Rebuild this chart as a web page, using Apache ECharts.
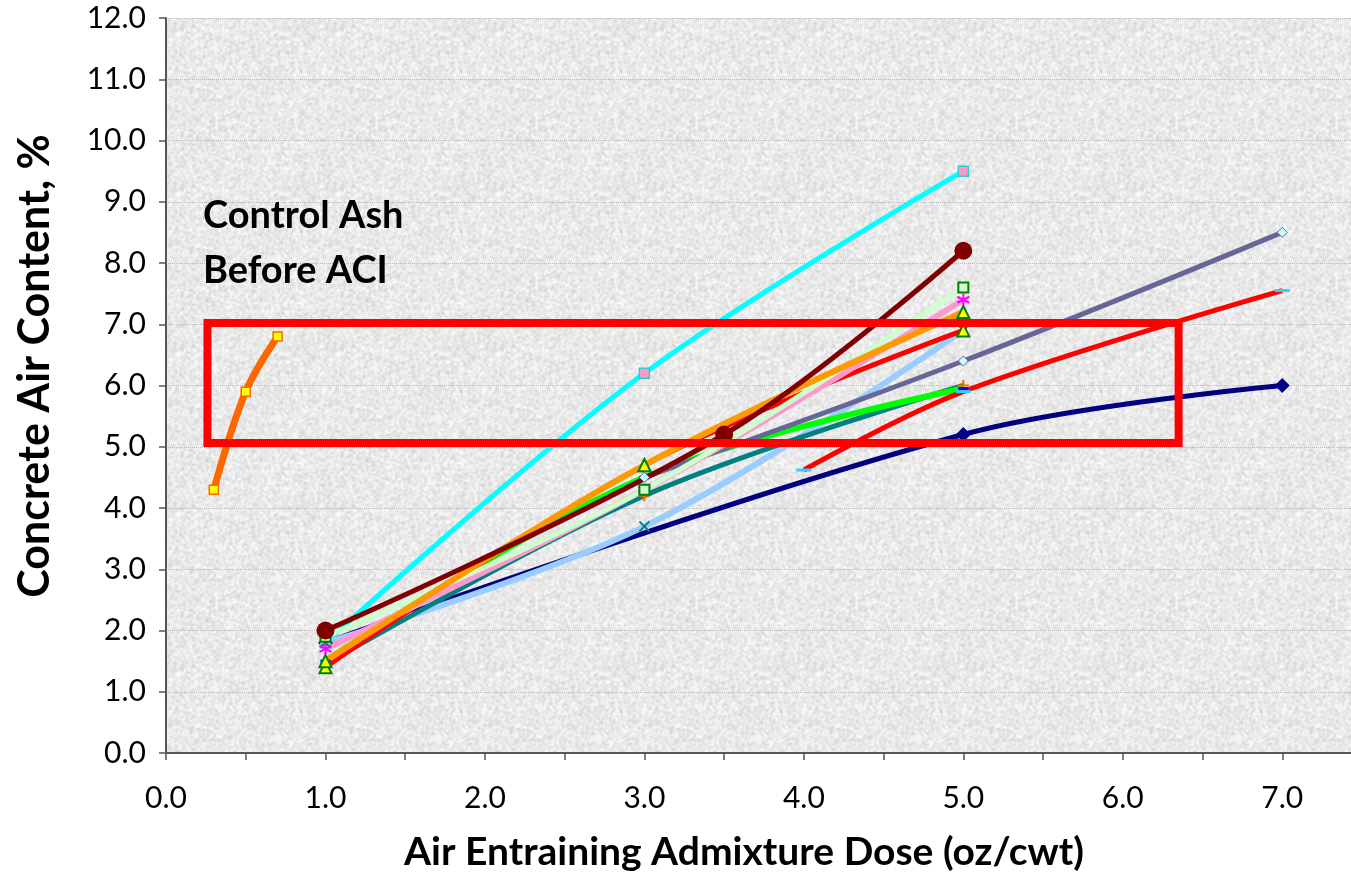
<!DOCTYPE html>
<html>
<head>
<meta charset="utf-8">
<script src="https://cdn.jsdelivr.net/npm/echarts@6/dist/echarts.min.js"></script>
<style>
  html, body { margin: 0; padding: 0; background: #fff; }
  #chart { width: 1351px; height: 872px; }
</style>
</head>
<body>
<div id="chart"></div>
<script>
// dose (oz/cwt) vs air content (%)
const controlAsh = [[0.3, 4.3], [0.5, 5.9], [0.7, 6.8]]
const navyRun = [[1.0, 1.8], [5.0, 5.2], [7.0, 6.0]]
const cyanRun = [[1.0, 1.8], [3.0, 6.2], [5.0, 9.5]]
const maroonRun = [[1.0, 2.0], [3.5, 5.2], [5.0, 8.2]]
const paleGreenRun = [[1.0, 1.9], [3.0, 4.3], [5.0, 7.6]]
const pinkRun = [[1.0, 1.7], [3.0, 4.3], [5.0, 7.4]]
const orangeRun = [[1.0, 1.5], [3.0, 4.7], [5.0, 7.2]]
const redRunA = [[1.0, 1.4], [3.0, 4.7], [5.0, 6.9]]
const greenRun = [[1.0, 1.5], [3.0, 4.5], [5.0, 5.95]]
const tealRun = [[1.0, 1.45], [3.0, 4.2], [5.0, 6.0]]
const lightBlueRun = [[1.0, 1.8], [3.0, 3.7], [5.0, 6.9]]
const slateRun = [[3.0, 4.5], [5.0, 6.4], [7.0, 8.5]]
const redRunB = [[4.0, 4.62], [5.0, 5.9], [7.0, 7.55]]

// target band drawn on the chart
const boxX = [0.26, 6.35]
const boxY = [5.06, 7.02]

const xTicks = { min: 0, max: 7.5, step: 0.5 }
const yTicks = { min: 0, max: 12, step: 1 }

const FONT = 'Lato, "Open Sans", sans-serif'
const asterisk = 'path://M5,0L5,10M0.7,2.5L9.3,7.5M0.7,7.5L9.3,2.5'
const cross = 'path://M0,0L10,10M0,10L10,0'
const plus = 'path://M5,0L5,10M0,5L10,5'

// granite-ish plot background, deterministic hash noise
function granite() {
  const size = 160
  const c = document.createElement('canvas')
  c.width = size; c.height = size
  const ctx = c.getContext('2d')
  const img = ctx.createImageData(size, size)
  const hash = (x, y) => {
    let h = (x * 374761393 + y * 668265263) | 0
    h = (h ^ (h >>> 13)) * 1274126177 | 0
    return ((h ^ (h >>> 16)) >>> 0) / 4294967295
  }
  for (let y = 0; y < size; y++) {
    for (let x = 0; x < size; x++) {
      let s = 0
      for (let dy = -1; dy <= 1; dy++) {
        for (let dx = -1; dx <= 1; dx++) {
          s += hash((x + dx + size) % size, (y + dy + size) % size)
        }
      }
      const g = Math.min(250, Math.round(233 + 75 * (s / 9 - 0.5)))
      const i = (y * size + x) * 4
      img.data[i] = g; img.data[i + 1] = g; img.data[i + 2] = g; img.data[i + 3] = 255
    }
  }
  ctx.putImageData(img, 0, 0)
  return c
}

function line(data, color, width, symbol, size, itemStyle) {
  return {
    type: 'line',
    data: data,
    smooth: 0.35,
    symbol: symbol,
    symbolSize: size,
    showSymbol: true,
    lineStyle: { color: color, width: width },
    itemStyle: itemStyle,
    emphasis: { disabled: true },
    animation: false
  }
}

const boxData = [
  [boxX[0], boxY[0]], [boxX[1], boxY[0]], [boxX[1], boxY[1]],
  [boxX[0], boxY[1]], [boxX[0], boxY[0]]
]

const chart = echarts.init(document.getElementById('chart'))
chart.setOption({
  backgroundColor: '#ffffff',
  animation: false,
  grid: {
    left: 166, top: 18, width: 1196, height: 735,
    outerBoundsMode: 'none',
    show: true, backgroundColor: { image: granite(), repeat: 'repeat' }, borderWidth: 0
  },
  xAxis: {
    type: 'value',
    min: xTicks.min, max: xTicks.max, interval: xTicks.step,
    axisLine: { lineStyle: { color: '#555', width: 2 } },
    axisTick: { show: true, length: 7, lineStyle: { color: '#555', width: 1.5 } },
    splitLine: { show: false },
    axisLabel: {
      color: '#000', fontFamily: FONT, fontSize: 30, margin: 30,
      formatter: v => (Math.abs(v - Math.round(v)) < 1e-6 && v <= 7) ? v.toFixed(1) : ''
    }
  },
  yAxis: {
    type: 'value',
    min: yTicks.min, max: yTicks.max, interval: yTicks.step,
    axisLine: { show: true, lineStyle: { color: '#555', width: 2 } },
    axisTick: { show: true, length: 7, lineStyle: { color: '#555', width: 1.5 } },
    splitLine: { show: true, lineStyle: { color: '#b8b8b8', width: 1, type: 'dotted' } },
    axisLabel: {
      color: '#000', fontFamily: FONT, fontSize: 30, margin: 20,
      formatter: v => v.toFixed(1)
    }
  },
  graphic: [
    {
      type: 'text', x: 744, y: 852,
      style: {
        text: 'Air Entraining Admixture Dose (oz/cwt)',
        font: 'bold 39px ' + FONT, fill: '#000',
        textAlign: 'center', textVerticalAlign: 'middle'
      }
    },
    {
      type: 'text', x: 35, y: 366, rotation: Math.PI / 2,
      style: {
        text: 'Concrete Air Content, %',
        font: 'bold 43px ' + FONT, fill: '#000',
        textAlign: 'center', textVerticalAlign: 'middle'
      }
    },
    {
      type: 'text', x: 203, y: 188, z: 10,
      style: {
        text: 'Control Ash\nBefore ACI',
        font: 'bold 38px ' + FONT, fill: '#000', lineHeight: 55
      }
    }
  ],
  series: [
    line(navyRun, '#000080', 5, 'diamond', 15, { color: '#000080' }),
    line(cyanRun, '#00FFFF', 5, 'rect', 10, { color: '#FF99CC', borderColor: '#33CCCC', borderWidth: 1.5 }),
    line(lightBlueRun, '#99CCFF', 6, cross, 10, { color: 'rgba(0,0,0,0)', borderColor: '#008080', borderWidth: 2 }),
    line(tealRun, '#008080', 5, plus, 11, { color: 'rgba(0,0,0,0)', borderColor: '#FF6600', borderWidth: 2 }),
    line(greenRun, '#00FF00', 6, 'rect', [10, 3], { color: '#0000FF' }),
    line(redRunA, '#FF0000', 5, 'triangle', 12, { color: '#FFFF00', borderColor: '#008000', borderWidth: 2 }),
    line(slateRun, '#666699', 5, 'diamond', 10, { color: '#CCFFFF', borderColor: '#666699', borderWidth: 1 }),
    line(redRunB, '#FF0000', 5, 'rect', [15, 3], { color: '#33CCFF' }),
    line(pinkRun, '#FF99CC', 6, asterisk, 12, { color: 'rgba(0,0,0,0)', borderColor: '#FF00FF', borderWidth: 2 }),
    line(paleGreenRun, '#CCFFCC', 5, 'rect', 10, { color: '#CCFFCC', borderColor: '#008000', borderWidth: 2 }),
    line(orangeRun, '#FF9900', 6, 'triangle', 12, { color: '#FFFF00', borderColor: '#008000', borderWidth: 2 }),
    line(maroonRun, '#800000', 5, 'circle', 18, { color: '#800000' }),
    line(controlAsh, '#FF6600', 7, 'rect', 9, { color: '#FFFF00', borderColor: '#FF6600', borderWidth: 1.5 }),
    {
      type: 'line', data: boxData, smooth: false, showSymbol: false, z: 5,
      lineStyle: { color: '#FF0000', width: 8, join: 'miter', cap: 'square' },
      emphasis: { disabled: true }, animation: false
    }
  ]
})
</script>
</body>
</html>
